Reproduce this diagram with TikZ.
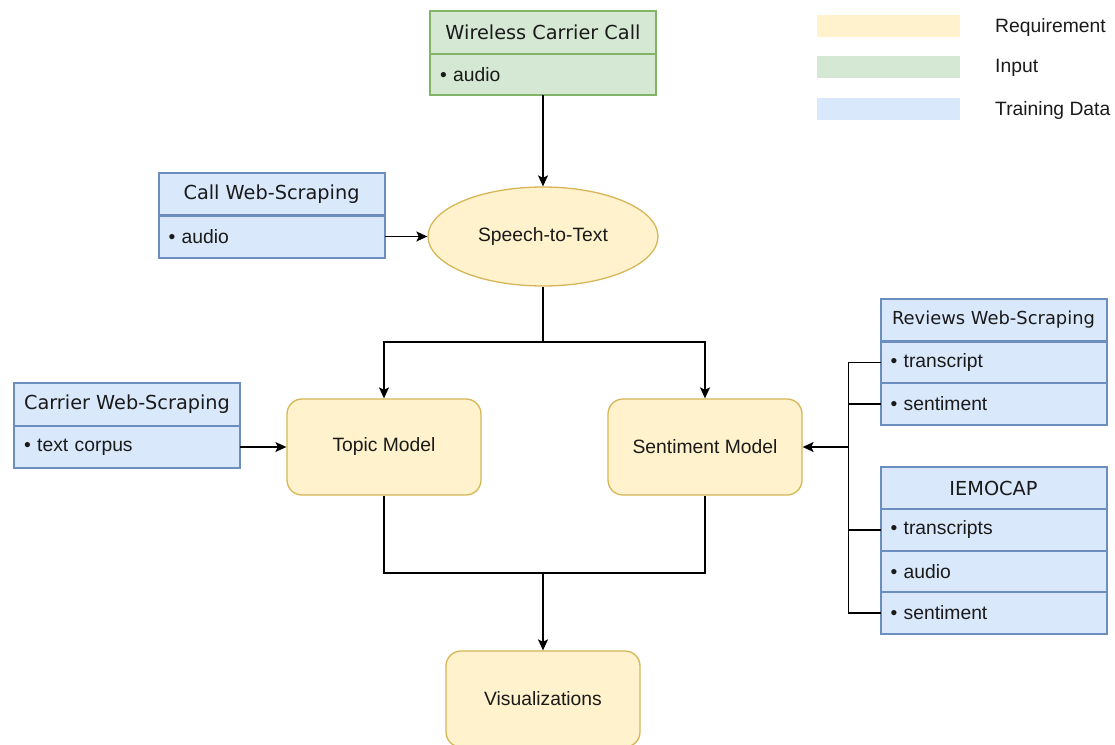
\documentclass[tikz,border=0pt]{standalone}
\usepackage{fontspec}
\setmainfont{Liberation Sans}
\newfontfamily\vfont{DejaVu Sans}
\usetikzlibrary{arrows.meta,shapes.geometric}
\definecolor{yfill}{HTML}{FFF2CC}\definecolor{ydraw}{HTML}{D6B656}
\definecolor{gfill}{HTML}{D5E8D4}\definecolor{gdraw}{HTML}{82B366}
\definecolor{bfill}{HTML}{DAE8FC}\definecolor{bdraw}{HTML}{6C8EBF}
\definecolor{ink}{HTML}{1A1A1A}
\begin{document}
\begin{tikzpicture}[x=1pt,y=-1pt,
  font=\fontsize{19.3}{23}\selectfont, text=ink,
  lane/.style={draw, line width=2pt, minimum width=226pt, inner sep=0pt, outer sep=0pt},
  head/.style={lane, minimum height=42.5pt, font=\vfont\fontsize{19.3}{23}\selectfont},
  row/.style={lane, minimum height=42pt, text width=206pt, align=left},
  blue/.style={fill=bfill, draw=bdraw},
  green/.style={fill=gfill, draw=gdraw},
  req/.style={draw=ydraw, fill=yfill, line width=1.3pt, rounded corners=15pt,
    minimum width=194pt, minimum height=96pt, inner sep=0pt},
  conn/.style={line width=1.4pt, black},
  arr/.style={conn, -{Stealth[length=11pt,width=10pt,inset=2.5pt]}},
  legbox/.style={minimum width=143pt, minimum height=22pt, inner sep=0pt}
]
\useasboundingbox (0,0) rectangle (1115,744);

% legend
\node[legbox, fill=yfill] (l1) at (888.5,26) {};
\node[legbox, fill=gfill] (l2) at (888.5,66.5) {};
\node[legbox, fill=bfill] (l3) at (888.5,109) {};
\node[anchor=west, inner sep=0pt] (t1) at (995,27.5) {Requirement};
\node[anchor=west, inner sep=0pt] (t2) at (995,68) {Input};
\node[anchor=west, inner sep=0pt] (t3) at (995,110.5) {Training Data};

% wireless carrier call
\node[head, green] (wh) at (543,32.5) {Wireless Carrier Call};
\node[row, green, minimum height=41.5pt] (wr) at (543,74.5) {\textbullet{} audio};

% call web-scraping
\node[head, blue] (ch) at (271.5,194) {Call Web-Scraping};
\node[row, blue] (cr) at (271.5,236.5) {\textbullet{} audio};

% speech to text
\node[ellipse, draw=ydraw, fill=yfill, line width=1.3pt, minimum width=230pt,
  minimum height=99pt, inner sep=0pt] (st) at (543,236.5) {Speech-to-Text};

% carrier web-scraping
\node[head, blue] (kh) at (127,404.5) {Carrier Web-Scraping};
\node[row, blue] (kr) at (127,447) {\textbullet{} text corpus};

% models
\node[req] (tm) at (384,447) {Topic Model};
\node[req] (sm) at (705,447) {Sentiment Model};
\node[req] (vz) at (543,699) {Visualizations};

% reviews web-scraping
\node[head, blue, font=\vfont\fontsize{17.9}{21}\selectfont] (rh) at (993.5,320) {Reviews Web-Scraping};
\node[row, blue] (r1) at (993.5,362.5) {\textbullet{} transcript};
\node[row, blue] (r2) at (993.5,404) {\textbullet{} sentiment};

% IEMOCAP
\node[head, blue] (ih) at (993.5,488) {IEMOCAP};
\node[row, blue] (i1) at (993.5,530) {\textbullet{} transcripts};
\node[row, blue] (i2) at (993.5,571.5) {\textbullet{} audio};
\node[row, blue] (i3) at (993.5,613) {\textbullet{} sentiment};

% connectors
\draw[arr] (wr.south) -- (st.north);
\draw[arr] (cr.east) -- (st.west);
\draw[arr] (kr.east) -- (tm.west);
\coordinate (sp) at (543,342);
\draw[conn] (st.south) -- (sp);
\draw[arr] (sp) -| (tm.north);
\draw[arr] (sp) -| (sm.north);

\coordinate (bx) at ([xshift=-32pt]r1.west |- sm.east);
\draw[conn] (r1.west) -- ++(-32,0) |- (i3.west);
\draw[conn] (r2.west) -- ++(-32,0);
\draw[conn] (i1.west) -- ++(-32,0);
\draw[arr] (bx) -- (sm.east);

\coordinate (jn) at (543,573);
\draw[conn] (tm.south) |- (jn);
\draw[conn] (sm.south) |- (jn);
\draw[arr] (jn) -- (vz.north);
\end{tikzpicture}
\end{document}
